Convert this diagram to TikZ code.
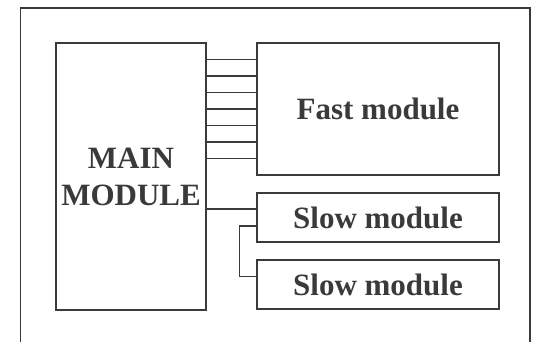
\documentclass[tikz,border=0pt]{standalone}
\usepackage{fontspec}
\setmainfont{Liberation Serif}
\definecolor{ink}{HTML}{3A3A3A}
\begin{document}
\begin{tikzpicture}[x=1pt,y=-1pt,
  modbox/.style={draw=ink, line width=1.3pt, inner sep=0pt, align=center,
    text=ink, font=\fontsize{31}{37}\selectfont\bfseries},
  wire/.style={draw=ink, line width=1.2pt}]
\clip (0,0) rectangle (538,342);
\fill[white] (0,0) rectangle (538,342);
\draw[wire] (20.5,8) rectangle (530,360);

\node[modbox, minimum width=150pt, minimum height=267pt] (main) at (131,176.5) {MAIN\\MODULE};
\node[modbox, minimum width=242pt, minimum height=132pt] (fast) at (378,109) {Fast module};
\node[modbox, minimum width=242pt, minimum height=49pt] (slowa) at (378,217.5) {Slow module};
\node[modbox, minimum width=242pt, minimum height=49pt] (slowb) at (378,284.5) {Slow module};

\foreach \k in {-3,...,3}{
  \path ([yshift=\k*16.5pt]fast.west) coordinate (bus);
  \draw[wire] (bus) -- (bus -| main.east);
}
\path ([yshift=8.5pt]slowa.west) coordinate (tap);
\draw[wire] (tap) -- (tap -| main.east);
\draw[wire] ([yshift=-8.5pt]slowa.west) -- ++(-17,0) |- ([yshift=8pt]slowb.west);
\end{tikzpicture}
\end{document}
